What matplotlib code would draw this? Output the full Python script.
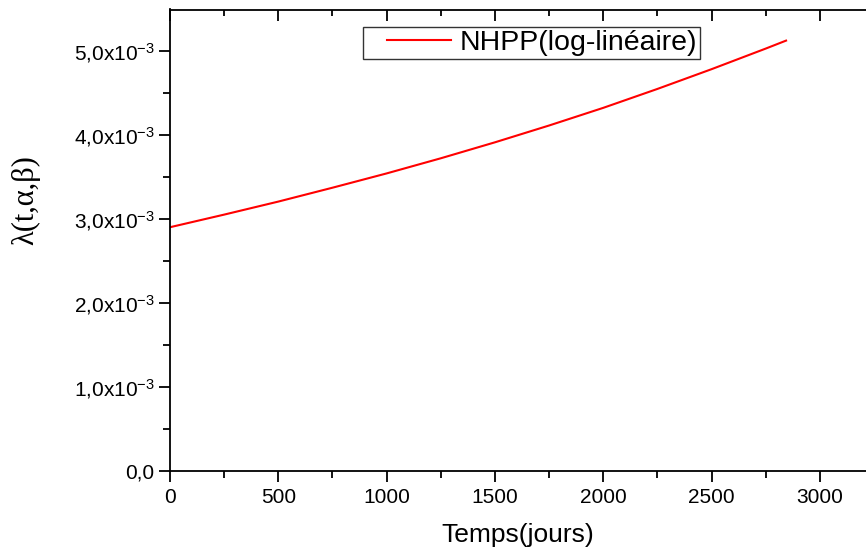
import matplotlib
matplotlib.use("Agg")
import matplotlib.pyplot as plt
from matplotlib.ticker import MultipleLocator
from matplotlib.legend_handler import HandlerLine2D
from matplotlib.lines import Line2D

plt.rcParams['font.family'] = ['Liberation Sans', 'DejaVu Sans']
plt.rcParams['mathtext.fontset'] = 'custom'
plt.rcParams['mathtext.rm'] = 'Liberation Sans'
plt.rcParams['mathtext.it'] = 'Liberation Sans'

# data
t_days = [0, 250, 500, 750, 1000, 1250, 1500, 1750, 2000, 2250, 2500, 2750, 2844]
lam = [2.90e-3, 3.05e-3, 3.205e-3, 3.37e-3, 3.54e-3, 3.72e-3, 3.91e-3, 4.11e-3,
       4.32e-3, 4.545e-3, 4.78e-3, 5.025e-3, 5.12e-3]
xticks = [0, 500, 1000, 1500, 2000, 2500, 3000]
yticks = [0, 1e-3, 2e-3, 3e-3, 4e-3, 5e-3]
ytick_labels = ["0,0", "1,0x10$^{-3}$", "2,0x10$^{-3}$", "3,0x10$^{-3}$",
                "4,0x10$^{-3}$", "5,0x10$^{-3}$"]
series_label = "NHPP(log-linéaire)"


class PaddedLineHandler(HandlerLine2D):
    """Legend line that leaves some blank space on its left."""
    def create_artists(self, legend, orig_handle, xdescent, ydescent, width, height,
                       fontsize, trans):
        pad = 0.25 * width
        y = (height - ydescent) / 2.0
        line = Line2D([pad - xdescent, width - xdescent], [y, y])
        self.update_prop(line, orig_handle, legend)
        line.set_transform(trans)
        return [line]


fig = plt.figure(figsize=(8.66, 5.5), dpi=100)
ax = fig.add_axes([170/866, 79/550, 696/866, 461.5/550])

ln, = ax.plot(t_days, lam, color='#ff0000', lw=1.5, label=series_label)

ax.set_xlim(0, 3213)
ax.set_ylim(0, 5.49e-3)
ax.set_xticks(xticks)
ax.set_xticklabels([str(v) for v in xticks])
ax.set_yticks(yticks)
ax.set_yticklabels(ytick_labels)
ax.xaxis.set_minor_locator(MultipleLocator(250))
ax.yaxis.set_minor_locator(MultipleLocator(0.5e-3))

ax.spines['right'].set_visible(False)
for s in ['left', 'bottom', 'top']:
    ax.spines[s].set_linewidth(1.3)

ax.tick_params(axis='y', which='major', direction='out', length=8, width=1.3, labelsize=15, pad=3)
ax.tick_params(axis='y', which='minor', direction='out', length=5, width=1.3)
ax.tick_params(axis='x', which='major', direction='out', length=8, width=1.3, labelsize=15,
               top=True, pad=4)
ax.tick_params(axis='x', which='minor', direction='out', length=5, width=1.3, top=True)
# top ticks point inward
for tk in ax.xaxis.get_major_ticks():
    tk.tick2line.set_marker(matplotlib.lines.TICKDOWN)
for tk in ax.xaxis.get_minor_ticks():
    tk.tick2line.set_marker(matplotlib.lines.TICKDOWN)
    tk.tick2line.set_markersize(4)

ax.set_xlabel("Temps(jours)", fontsize=19, labelpad=12)
ax.set_ylabel("λ(t,α,β)", fontsize=22, family=['Liberation Serif', 'DejaVu Serif'])
ax.yaxis.set_label_coords(-0.187, 0.587)

leg = ax.legend(handles=[ln], loc='upper left', bbox_to_anchor=(0.277, 0.962), fontsize=20.5,
                frameon=True, fancybox=False, edgecolor='black', handlelength=3.0,
                borderpad=0.1, handletextpad=0.3, borderaxespad=0,
                handler_map={Line2D: PaddedLineHandler()})
leg.get_frame().set_linewidth(1.0)

fig.savefig("out.png", dpi=100)
